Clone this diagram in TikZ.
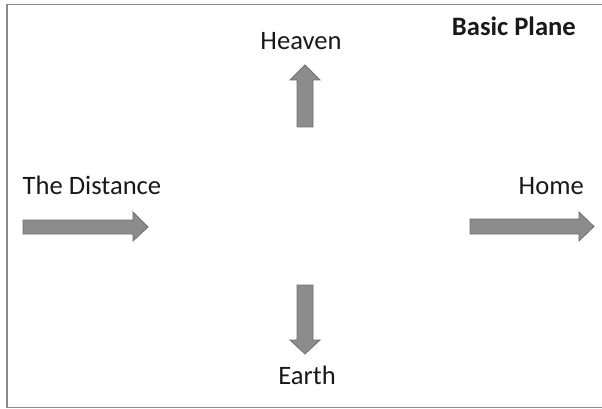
\documentclass[tikz,border=0pt]{standalone}
\usepackage{fontspec}
\setmainfont{Carlito}
\definecolor{arrowfill}{HTML}{8C8C8C}
\definecolor{arrowline}{HTML}{6E6E6E}
\definecolor{framecol}{HTML}{8A8A8A}
\begin{document}
\begin{tikzpicture}[x=1pt,y=-1pt,
  lbl/.style={inner sep=0pt,anchor=base,font=\fontsize{26.6}{30}\selectfont,text=black!90},
  blockarrow/.style={fill=arrowfill,draw=arrowline,line width=0.8pt,line join=miter}]
\useasboundingbox (0,0) rectangle (602,409);
\begin{scope}
\clip (0,0) rectangle (602,409);
\draw[framecol,line width=1.5pt] (7,4.5) rectangle (620,407.5);
\end{scope}
% labels
\node[lbl] (heaven) at (301,50) {Heaven};
\node[lbl,anchor=base east,font=\fontsize{26.6}{30}\selectfont\bfseries] (plane) at (576,35.5) {Basic Plane};
\node[lbl,anchor=base west] (distance) at (22.5,194.3) {The Distance};
\node[lbl,anchor=base east] (home) at (584,194) {Home};
\node[lbl] (earth) at (307,384) {Earth};
% block arrows
\draw[blockarrow] (297,127) -- (297,80) -- (290,80) -- (305,65) -- (320,80) -- (313,80) -- (313,127) -- cycle;
\draw[blockarrow] (297,285) -- (297,340) -- (290,340) -- (305,354) -- (320,340) -- (313,340) -- (313,285) -- cycle;
\draw[blockarrow] (23,220) -- (133,220) -- (133,212) -- (148,227) -- (133,241) -- (133,234) -- (23,234) -- cycle;
\draw[blockarrow] (470,219) -- (579,219) -- (579,212) -- (594,226.5) -- (579,241) -- (579,234) -- (470,234) -- cycle;
\end{tikzpicture}
\end{document}
